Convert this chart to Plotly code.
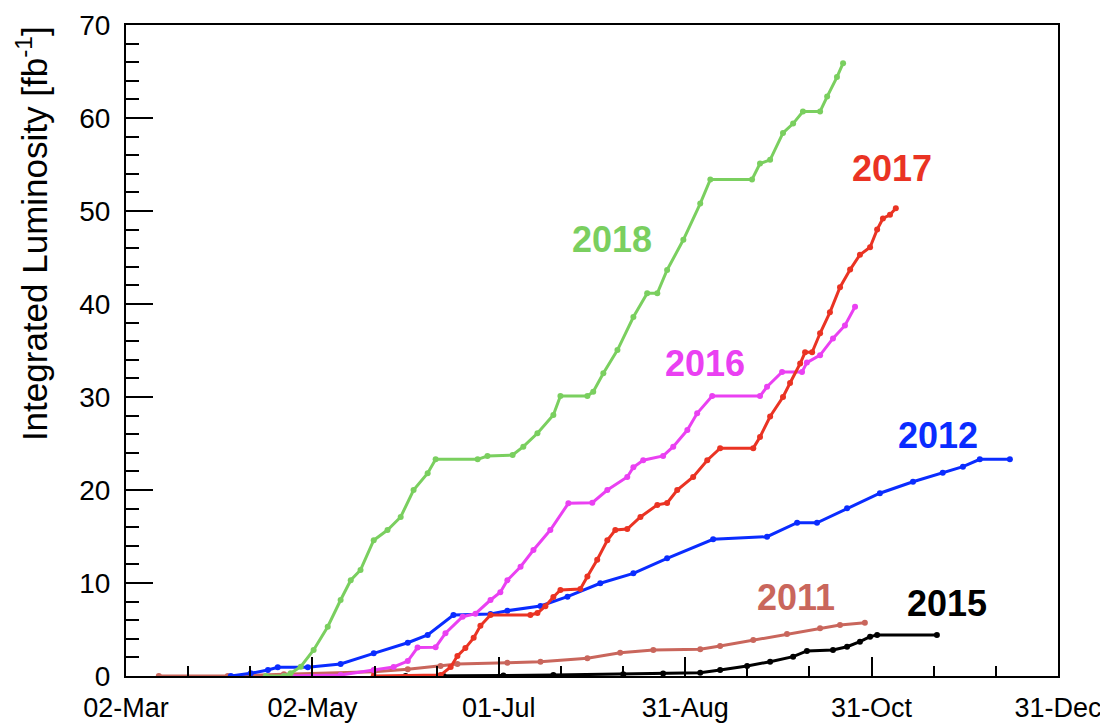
import plotly.graph_objects as go

# x = days after 02-Mar, y = integrated luminosity [fb^-1]
days_2011 = [10.7, 33.2, 51.5, 80.8, 91.9, 102.6, 108.1, 124.4, 135.2, 150.5, 161.2, 172.0,
             187.3, 193.8, 204.6, 215.6, 226.4, 232.9, 241.0]
lumi_2011 = [0, 0, 0.2, 0.46, 0.72, 1.08, 1.29, 1.43, 1.54, 1.9, 2.5, 2.8,
             2.87, 3.23, 3.87, 4.52, 5.13, 5.48, 5.73]

days_2012 = [34.2, 40.7, 46.3, 49.5, 59.3, 70.0, 80.8, 91.9, 98.4, 106.8, 118.9, 124.4, 135.2,
             144.0, 154.7, 165.5, 176.5, 191.5, 209.1, 218.9, 225.4, 235.2, 245.9, 256.7,
             266.4, 273.0, 278.5, 288.3]
lumi_2012 = [0, 0.29, 0.65, 0.94, 0.94, 1.29, 2.44, 3.58, 4.41, 6.56, 6.67, 7.02, 7.53,
             8.53, 9.97, 11.04, 12.66, 14.7, 14.98, 16.48, 16.48, 18.03, 19.65, 20.89,
             21.86, 22.51, 23.3, 23.3]

days_2015 = [91.2, 103.6, 123.1, 139.4, 162.2, 175.2, 187.3, 193.8, 202.6, 210.1, 217.6, 222.1,
             230.6, 235.2, 239.4, 242.7, 245.0, 264.5]
lumi_2015 = [0, 0, 0.05, 0.1, 0.2, 0.27, 0.35, 0.65, 1.08, 1.54, 2.08, 2.7,
             2.8, 3.15, 3.69, 4.23, 4.41, 4.41]

days_2016 = [51.5, 70.0, 80.8, 87.3, 91.9, 95.1, 101.0, 104.2, 109.8, 114.0, 118.9, 122.1, 124.4,
             128.7, 132.9, 138.4, 144.3, 152.1, 157.0, 163.5, 165.5, 168.7, 175.2, 178.5,
             183.1, 186.3, 191.2, 206.8, 209.1, 214.0, 220.5, 222.1, 226.4, 230.6, 234.5, 237.8]
lumi_2016 = [0, 0.1, 0.65, 0.97, 1.6, 3.06, 3.1, 4.6, 6.38, 6.7, 8.17, 9.0, 10.3,
             11.75, 13.55, 15.7, 18.57, 18.63, 20.0, 21.4, 22.44, 23.2, 23.66, 24.66,
             26.45, 28.25, 30.1, 30.1, 31.1, 32.7, 32.7, 33.7, 34.5, 36.3, 37.7, 39.7]

days_2017 = [80.8, 102.6, 105.9, 108.1, 110.7, 113.4, 115.6, 118.9, 131.9, 134.2, 136.8, 139.4,
             141.7, 148.2, 150.5, 153.7, 157.0, 159.6, 163.5, 167.8, 173.3, 176.5, 179.8,
             185.0, 189.6, 193.8, 204.6, 206.8, 210.1, 214.3, 216.6, 219.9, 221.5, 223.8,
             226.4, 229.6, 232.9, 236.2, 239.4, 242.7, 245.0, 246.9, 249.2, 251.1]
lumi_2017 = [0, 0.1, 0.97, 2.15, 3.0, 4.1, 5.4, 6.56, 6.56, 6.77, 7.5, 8.5,
             9.25, 9.35, 10.7, 12.5, 14.6, 15.7, 15.8, 17.1, 18.4, 18.6, 20.0,
             21.4, 23.2, 24.5, 24.5, 25.7, 27.9, 30.0, 31.5, 33.6, 34.8, 34.8,
             36.85, 39.1, 41.8, 43.7, 45.3, 46.1, 48.0, 49.2, 49.6, 50.3]

days_2018 = [45.6, 51.5, 53.7, 57.0, 61.2, 65.8, 70.0, 73.3, 76.5, 80.8, 85.3, 89.6, 93.8, 98.4,
             101.0, 114.7, 117.9, 126.1, 129.6, 134.2, 139.4, 141.7, 150.5, 152.4, 155.7,
             160.3, 165.5, 170.0, 173.3, 176.5, 181.8, 187.3, 190.6, 204.2, 206.8, 210.1,
             214.3, 217.6, 220.8, 226.4, 228.7, 231.9, 233.9]
lumi_2018 = [0, 0, 0.29, 1.0, 2.8, 5.3, 8.17, 10.3, 11.4, 14.6, 15.7, 17.1, 20.0, 21.8,
             23.3, 23.3, 23.66, 23.76, 24.66, 26.1, 28.06, 30.1, 30.1, 30.57, 32.55,
             35.05, 38.6, 41.15, 41.15, 43.66, 46.9, 50.8, 53.4, 53.4, 55.1, 55.5,
             58.4, 59.4, 60.7, 60.7, 62.3, 64.4, 65.9]

tick_days = [0, 60.8, 121.6, 182.4, 243.2, 304]
tick_text = ["02-Mar", "02-May", "01-Jul", "31-Aug", "31-Oct", "31-Dec"]

series = [
    ("2011", days_2011, lumi_2011, "#c9665c", 218.5, 8.44),
    ("2012", days_2012, lumi_2012, "#0a2cff", 264.7, 25.9),
    ("2015", days_2015, lumi_2015, "#000000", 267.9, 7.85),
    ("2016", days_2016, lumi_2016, "#ea40f2", 188.9, 33.6),
    ("2017", days_2017, lumi_2017, "#ea3323", 249.8, 54.6),
    ("2018", days_2018, lumi_2018, "#7acf5f", 158.5, 46.9),
]

FONT = "Liberation Sans, Helvetica, Arial, sans-serif"

fig = go.Figure()
for name, xs, ys, color, lx, ly in series:
    fig.add_trace(go.Scatter(x=xs, y=ys, mode="lines+markers", name=name,
                             line=dict(color=color, width=3),
                             marker=dict(color=color, size=6)))
    fig.add_annotation(x=lx, y=ly, text="<b>%s</b>" % name, showarrow=False,
                       font=dict(family=FONT, size=36, color=color))

# minor ticks: each labelled interval split in three
minor_days = []
for a, b in zip(tick_days[:-1], tick_days[1:]):
    minor_days += [a + (b - a) / 3, a + 2 * (b - a) / 3]

fig.add_annotation(xref="paper", yref="paper", x=-0.1, y=0.68,
                   text="Integrated Luminosity [fb<sup>-1</sup>]", textangle=-90,
                   showarrow=False, xanchor="center", yanchor="middle",
                   font=dict(family=FONT, size=35, color="black"))

# page body adds an 8px offset, so the margins are shifted to compensate
fig.update_layout(
    width=1108, height=727,
    margin=dict(l=118, r=58, t=17, b=59),
    plot_bgcolor="white", paper_bgcolor="white",
    showlegend=False,
    font=dict(family=FONT, size=28, color="black"),
    xaxis=dict(range=[0, 304], tickmode="array", tickvals=tick_days, ticktext=tick_text,
               showgrid=False, zeroline=False, showline=True, linecolor="black", linewidth=2,
               mirror=True, ticks="inside", ticklen=19, tickwidth=1.5, tickcolor="black",
               ticklabelstandoff=7, automargin=False, tickfont=dict(size=27),
               minor=dict(tickmode="array", tickvals=minor_days, ticks="inside",
                          ticklen=10, tickwidth=1.5, tickcolor="black", showgrid=False)),
    yaxis=dict(range=[0, 70], tickmode="linear", tick0=0, dtick=10,
               showgrid=False, zeroline=False, showline=True, linecolor="black", linewidth=2,
               mirror=True, ticks="inside", ticklen=27, tickwidth=1.5, tickcolor="black",
               ticklabelstandoff=8, automargin=False,
               minor=dict(dtick=2, ticks="inside", ticklen=13, tickwidth=1.5,
                          tickcolor="black", showgrid=False)),
)

fig.write_html("out.html")
